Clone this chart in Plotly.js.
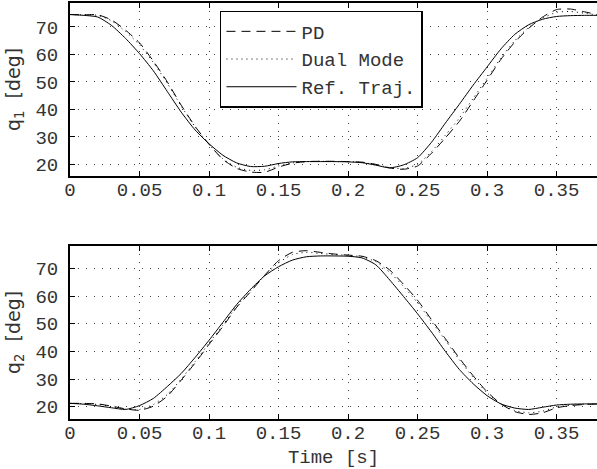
<!DOCTYPE html>
<html>
<head>
<meta charset="utf-8">
<script src="https://cdn.plot.ly/plotly-3.0.1.min.js"></script>
<style>html,body{margin:0;padding:0;background:#fff;}#chart{width:597px;height:469px;}</style>
</head>
<body>
<div id="chart"></div>
<script>
// Time samples [s]
var time = [0,0.01,0.02,0.03,0.04,0.05,0.06,0.07,0.08,0.09,0.10,0.11,0.12,0.13,0.14,0.15,0.16,0.17,0.18,0.19,0.20,0.21,0.22,0.23,0.24,0.25,0.26,0.27,0.28,0.29,0.30,0.31,0.32,0.33,0.34,0.35,0.36,0.37,0.38];

// q1 [deg]
var q1_pd   = [74.5,74.4,74.4,72.5,68.8,64.2,57.5,50.0,41.5,33.8,27.3,21.8,18.5,17.2,17.1,19.0,20.4,21.0,21.1,21.1,21.0,20.8,20.0,18.7,18.2,19.4,24.0,29.6,35.6,43.0,50.6,58.2,64.5,69.5,73.6,76.3,76.5,75.5,74.4];
var q1_dual = [74.5,74.4,74.2,72.2,68.3,63.5,57.0,49.5,41.2,33.6,27.3,22.0,18.9,17.8,18.0,19.4,20.5,21.0,21.1,21.0,21.0,20.7,19.9,18.8,18.5,20.0,24.6,30.6,36.8,44.0,51.3,58.8,65.0,69.8,73.2,75.3,75.6,75.0,74.3];
var q1_ref  = [74.5,74.2,73.6,70.5,65.8,60.3,54.0,46.5,39.0,32.5,27.5,23.3,20.5,19.2,19.3,20.3,20.9,21.0,21.0,21.0,20.9,20.6,19.7,18.7,19.8,22.4,28.0,35.0,41.8,48.8,55.4,62.0,67.3,70.8,72.8,73.8,74.1,74.2,74.2];

// q2 [deg]
var q2_pd   = [21.2,21.2,21.0,20.2,19.2,18.7,20.2,23.8,29.6,35.8,42.5,49.0,56.0,61.6,67.5,72.8,75.8,76.4,75.8,75.2,74.8,74.4,72.8,69.4,64.2,58.5,51.5,44.6,37.6,31.2,25.4,21.0,18.2,17.2,17.8,19.6,20.4,20.8,21.0];
var q2_dual = [21.2,21.1,20.8,20.0,19.1,19.0,20.8,24.4,30.0,36.3,43.0,49.5,56.4,62.0,67.4,72.0,75.0,75.8,75.4,75.0,74.7,74.2,72.4,68.6,63.4,57.6,50.8,44.0,37.0,30.6,25.0,21.0,18.6,17.8,18.4,19.9,20.5,20.9,21.0];
var q2_ref  = [21.2,20.9,20.3,19.6,19.0,20.4,23.0,27.3,32.0,37.8,44.0,50.5,57.0,62.5,67.3,70.6,73.0,74.2,74.5,74.5,74.4,73.8,71.3,65.8,59.8,53.6,47.0,40.0,33.5,28.3,24.0,21.0,19.5,19.0,19.8,20.6,20.9,21.0,21.0];

var seriesNames = ['PD', 'Dual Mode', 'Ref. Traj.'];
var yTickVals = [20, 30, 40, 50, 60, 70];
var xTickVals = [0, 0.05, 0.1, 0.15, 0.2, 0.25, 0.3, 0.35];

var MONO = 'Liberation Mono, Courier New, monospace';
var SANS = 'DejaVu Sans, sans-serif';
var TXT = '#333';

var dashPD = '9px,6px';
var dotDual = '1px,4px';

function mk(y, name, dash, xa, ya, show, grp) {
  return {x: time, y: y, name: name, type: 'scatter', mode: 'lines',
          xaxis: xa, yaxis: ya, showlegend: show, legendgroup: grp,
          line: {color: '#000', width: 1, dash: dash, shape: 'spline', smoothing: 0.6},
          hoverinfo: 'skip'};
}

var data = [
  mk(q1_pd, seriesNames[0], dashPD, 'x', 'y', true, 'a'),
  mk(q1_dual, seriesNames[1], dotDual, 'x', 'y', true, 'b'),
  mk(q1_ref, seriesNames[2], 'solid', 'x', 'y', true, 'c'),
  mk(q2_pd, seriesNames[0], dashPD, 'x2', 'y2', false, 'a'),
  mk(q2_dual, seriesNames[1], dotDual, 'x2', 'y2', false, 'b'),
  mk(q2_ref, seriesNames[2], 'solid', 'x2', 'y2', false, 'c')
];

function xax(anchor, title) {
  var a = {anchor: anchor, domain: [0, 1], range: [0, 0.3791],
    tickvals: xTickVals, ticks: 'inside', ticklen: 5, tickwidth: 1, tickcolor: '#000',
    showline: true, linecolor: '#000', linewidth: 2, mirror: 'ticks',
    showgrid: true, gridcolor: '#444', griddash: '1px,7px', gridwidth: 1,
    zeroline: false, tickfont: {family: MONO, size: 19, color: TXT},
    ticklabelstandoff: -5};
  if (title) a.title = {text: title, font: {family: MONO, size: 19, color: TXT}, standoff: 6};
  return a;
}
function yax(dom, rng, title) {
  return {domain: dom, range: rng, tickvals: yTickVals,
    ticks: 'inside', ticklen: 5, tickwidth: 1, tickcolor: '#000',
    showline: true, linecolor: '#000', linewidth: 2,
    showgrid: true, gridcolor: '#444', griddash: '1px,7px', gridwidth: 1,
    zeroline: false, tickfont: {family: MONO, size: 19, color: TXT},
    ticklabelstandoff: 6,
    title: {text: title, font: {family: SANS, size: 19, color: TXT}, standoff: 10}};
}

var layout = {
  width: 597, height: 469,
  margin: {l: 70, r: 0, t: 3, b: 50},
  paper_bgcolor: '#fff', plot_bgcolor: '#fff',
  xaxis: xax('y', null),
  yaxis: yax([0.5841, 1], [15.75, 78.7], 'q<sub>1</sub>\u00a0\u00a0[deg]'),
  xaxis2: xax('y2', 'Time [s]'),
  yaxis2: yax([0, 0.4159], [15.55, 78.1], 'q<sub>2</sub>\u00a0\u00a0[deg]'),
  showlegend: true,
  legend: {x: 0.2846, y: 0.9808, xanchor: 'left', yanchor: 'top',
    bgcolor: '#fff', bordercolor: '#000', borderwidth: 1.5,
    font: {family: MONO, size: 19, color: TXT},
    itemwidth: 70, traceorder: 'normal', tracegroupgap: 0}
};

Plotly.newPlot('chart', data, layout, {displayModeBar: false, staticPlot: true});
</script>
</body>
</html>
